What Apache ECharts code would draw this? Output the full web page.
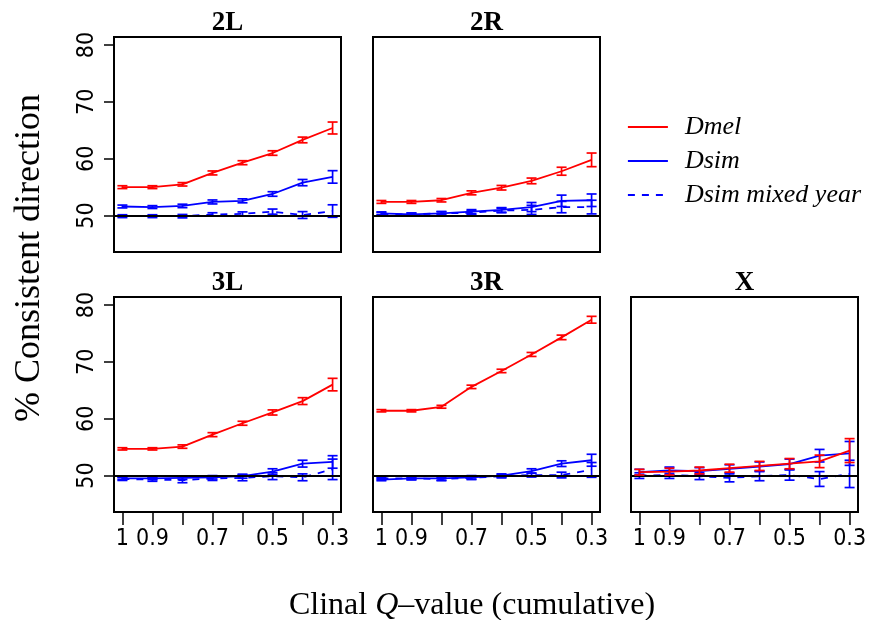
<!DOCTYPE html>
<html><head><meta charset="utf-8">
<script src="https://cdn.jsdelivr.net/npm/echarts@6/dist/echarts.min.js"></script>
<style>html,body{margin:0;padding:0;background:#fff}#c{width:870px;height:620px}</style>
</head><body><div id="c"></div>
<script>
// ---- data ----
const qValues = [1, 0.9, 0.8, 0.7, 0.6, 0.5, 0.4, 0.3];
const xTickValues = [1, 0.9, 0.8, 0.7, 0.6, 0.5, 0.4, 0.3];
const xLabelValues = [1, 0.9, 0.7, 0.5, 0.3];
const yTickValues = [50, 60, 70, 80];
const panelNames = ['2L', '2R', '3L', '3R', 'X'];
const seriesNames = ['Dmel', 'Dsim', 'Dsim mixed year'];

// 2L
const dmel2L = [55.0, 55.0, 55.5, 57.5, 59.3, 61.0, 63.3, 65.4];
const dmel2LErr = [0.25, 0.25, 0.3, 0.35, 0.35, 0.4, 0.5, 1.05];
const dsim2L = [51.6, 51.5, 51.7, 52.4, 52.6, 53.8, 55.8, 56.8];
const dsim2LErr = [0.25, 0.25, 0.3, 0.35, 0.35, 0.4, 0.55, 1.1];
const mix2L = [49.9, 49.9, 49.9, 50.2, 50.3, 50.7, 50.1, 50.8];
const mix2LErr = [0.25, 0.25, 0.3, 0.3, 0.35, 0.45, 0.6, 1.1];
// 2R
const dmel2R = [52.4, 52.4, 52.7, 54.0, 54.9, 56.1, 57.8, 59.8];
const dmel2RErr = [0.25, 0.25, 0.3, 0.35, 0.4, 0.5, 0.7, 1.2];
const dsim2R = [50.4, 50.2, 50.4, 50.7, 51.0, 51.5, 52.6, 52.7];
const dsim2RErr = [0.25, 0.25, 0.3, 0.35, 0.4, 0.8, 1.0, 1.1];
const mix2R = [50.3, 50.2, 50.4, 50.5, 50.9, 51.0, 51.5, 51.5];
const mix2RErr = [0.25, 0.25, 0.3, 0.35, 0.4, 0.8, 1.0, 1.2];
// 3L
const dmel3L = [54.7, 54.7, 55.1, 57.2, 59.2, 61.1, 63.1, 66.0];
const dmel3LErr = [0.2, 0.2, 0.3, 0.35, 0.35, 0.45, 0.6, 1.1];
const dsim3L = [49.5, 49.5, 49.6, 49.7, 49.9, 50.7, 52.1, 52.4];
const dsim3LErr = [0.2, 0.2, 0.3, 0.3, 0.35, 0.5, 0.6, 1.1];
const mix3L = [49.4, 49.3, 49.2, 49.5, 49.6, 49.9, 49.7, 51.1];
const mix3LErr = [0.25, 0.3, 0.45, 0.35, 0.5, 0.6, 0.6, 1.8];
// 3R
const dmel3R = [61.4, 61.4, 62.1, 65.6, 68.4, 71.3, 74.3, 77.4];
const dmel3RErr = [0.2, 0.2, 0.25, 0.3, 0.3, 0.35, 0.4, 0.6];
const dsim3R = [49.3, 49.5, 49.5, 49.7, 50.0, 50.8, 52.1, 52.7];
const dsim3RErr = [0.2, 0.2, 0.3, 0.3, 0.3, 0.4, 0.5, 1.05];
const mix3R = [49.5, 49.5, 49.4, 49.6, 49.9, 50.1, 50.1, 51.0];
const mix3RErr = [0.2, 0.25, 0.3, 0.3, 0.3, 0.35, 0.5, 1.3];
// X
const dmelX = [50.6, 50.7, 50.9, 51.3, 51.7, 52.1, 52.5, 54.4];
const dmelXErr = [0.5, 0.6, 0.6, 0.7, 0.8, 0.9, 1.1, 2.1];
const dsimX = [50.6, 50.9, 50.8, 51.2, 51.6, 52.0, 53.5, 53.9];
const dsimXErr = [0.5, 0.6, 0.6, 0.7, 0.8, 0.9, 1.1, 2.1];
const mixX = [50.0, 50.1, 49.9, 49.6, 49.9, 50.1, 49.4, 50.3];
const mixXErr = [0.5, 0.6, 0.6, 0.7, 0.8, 0.9, 1.3, 2.4];

const panelData = {
  '2L': [[dmel2L, dmel2LErr], [dsim2L, dsim2LErr], [mix2L, mix2LErr]],
  '2R': [[dmel2R, dmel2RErr], [dsim2R, dsim2RErr], [mix2R, mix2RErr]],
  '3L': [[dmel3L, dmel3LErr], [dsim3L, dsim3LErr], [mix3L, mix3LErr]],
  '3R': [[dmel3R, dmel3RErr], [dsim3R, dsim3RErr], [mix3R, mix3RErr]],
  'X':  [[dmelX, dmelXErr], [dsimX, dsimXErr], [mixX, mixXErr]]
};

// ---- layout / style ----
const layout = {
  '2L': {left: 114, top: 37, showX: false, showY: true},
  '2R': {left: 373, top: 37, showX: false, showY: false},
  '3L': {left: 114, top: 297, showX: true, showY: true},
  '3R': {left: 373, top: 297, showX: true, showY: false},
  'X':  {left: 631, top: 297, showX: true, showY: false}
};
const W = 227, H = 215;
const colors = ['#ff0000', '#0000ff', '#0000ff'];
const lineTypes = ['solid', 'solid', [7, 7]];
const tickFont = '"Liberation Sans Narrow", "DejaVu Sans Condensed", "Liberation Sans", sans-serif';
const serif = '"Liberation Serif", "Times New Roman", serif';

const grids = [], xAxes = [], yAxes = [], series = [], titles = [];
panelNames.forEach((p, i) => {
  const L = layout[p];
  grids.push({left: L.left, top: L.top, width: W, height: H, show: true,
    borderColor: '#000', borderWidth: 2, backgroundColor: 'transparent'});
  titles.push({text: p, left: L.left + W / 2, top: L.top - 27, textAlign: 'center', padding: 0,
    textStyle: {fontFamily: serif, fontWeight: 'bold', fontSize: 27, color: '#000'}});
  xAxes.push({gridIndex: i, type: 'value', min: 0.272, max: 1.028, inverse: true,
    axisLine: {show: false}, splitLine: {show: false},
    axisTick: {show: L.showX, length: 13, customValues: xTickValues, lineStyle: {color: '#000', width: 1.5}},
    axisLabel: {show: L.showX, customValues: xLabelValues, margin: 16, color: '#000',
      fontFamily: tickFont, fontSize: 23, formatter: v => String(v)}});
  yAxes.push({gridIndex: i, type: 'value', min: 43.6, max: 81.4,
    axisLine: {show: false}, splitLine: {show: false},
    axisTick: {show: L.showY, length: 10, customValues: yTickValues, lineStyle: {color: '#000', width: 1.5}},
    axisLabel: {show: L.showY, customValues: yTickValues, rotate: 90, margin: 15, color: '#000',
      fontFamily: tickFont, fontSize: 23}});
  // draw order: mixed, Dsim, Dmel
  [2, 1, 0].forEach(s => {
    const vals = panelData[p][s][0], errs = panelData[p][s][1];
    const color = colors[s];
    const line = {
      type: 'line', name: seriesNames[s], xAxisIndex: i, yAxisIndex: i,
      data: qValues.map((q, k) => [q, vals[k]]),
      symbol: 'none', animation: false, z: 3 + (2 - s),
      lineStyle: {color: color, width: 1.8, type: lineTypes[s]},
      itemStyle: {color: color}
    };
    if (s === 2) {
      line.markLine = {silent: true, symbol: 'none', animation: false, label: {show: false},
        lineStyle: {color: '#000', width: 2, type: 'solid'}, data: [{yAxis: 50}]};
    }
    series.push(line);
    series.push({
      type: 'custom', name: seriesNames[s] + ' SE', xAxisIndex: i, yAxisIndex: i,
      data: qValues.map((q, k) => [q, vals[k], errs[k]]),
      animation: false, z: 3 + (2 - s),
      encode: {x: 0, y: 1},
      renderItem: (params, api) => {
        const x = api.value(0), y = api.value(1), e = api.value(2);
        const t = api.coord([x, y + e]), b = api.coord([x, y - e]);
        const w = 5;
        const st = {stroke: color, lineWidth: 1.7};
        return {type: 'group', children: [
          {type: 'line', shape: {x1: t[0], y1: t[1], x2: b[0], y2: b[1]}, style: st},
          {type: 'line', shape: {x1: t[0] - w, y1: t[1], x2: t[0] + w, y2: t[1]}, style: st},
          {type: 'line', shape: {x1: b[0] - w, y1: b[1], x2: b[0] + w, y2: b[1]}, style: st}
        ]};
      }
    });
  });
});

const chart = echarts.init(document.getElementById('c'), null, {renderer: 'canvas'});
chart.setOption({
  backgroundColor: '#fff',
  animation: false,
  title: titles,
  grid: grids,
  xAxis: xAxes,
  yAxis: yAxes,
  legend: {
    data: seriesNames, orient: 'vertical', left: 622, top: 109,
    itemWidth: 40, itemHeight: 14, itemGap: 8, selectedMode: false,
    itemStyle: {opacity: 0},
    lineStyle: {width: 1.8},
    textStyle: {fontFamily: serif, fontStyle: 'italic', fontSize: 26, color: '#000', padding: [0, 0, 0, 12]}
  },
  graphic: [
    {type: 'text', x: 30, y: 258, rotation: Math.PI / 2,
      style: {text: '% Consistent direction', font: '36px "Liberation Serif", serif', fill: '#000',
        align: 'center', verticalAlign: 'middle'}},
    {type: 'text', x: 472, y: 606,
      style: {text: '{n|Clinal }{i|Q}{n|\u2013value (cumulative)}', fill: '#000', align: 'center', verticalAlign: 'middle',
        rich: {n: {fontFamily: serif, fontSize: 32, fill: '#000'}, i: {fontFamily: serif, fontSize: 32, fontStyle: 'italic', fill: '#000'}}}}
  ],
  series: series
});
</script>
</body></html>
